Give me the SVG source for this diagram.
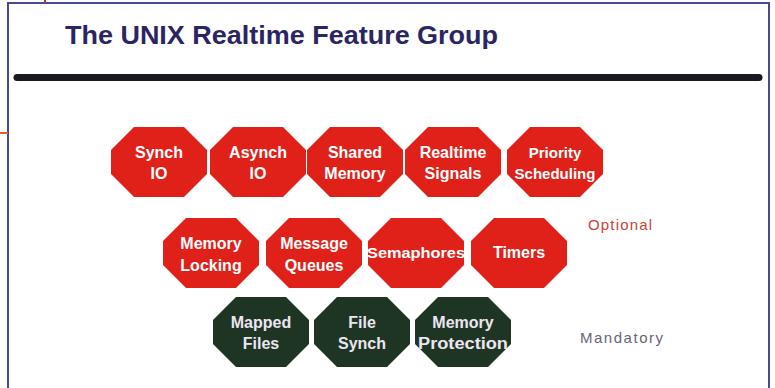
<svg xmlns="http://www.w3.org/2000/svg" width="775" height="388" viewBox="0 0 775 388">
<style>
.title{font-family:"Liberation Sans",Arial,sans-serif;font-weight:bold;font-size:26px;fill:#2b2563}
.lbl{font-family:"Liberation Sans",Arial,sans-serif;font-weight:bold;font-size:16px;fill:#ffffff;text-anchor:middle}
.lblg{fill:#ece6f2}
.red{fill:#df2119}
.green{fill:#1f3523}
.opt{font-family:"Liberation Sans",Arial,sans-serif;font-size:15px;fill:#c8423a}
.man{font-family:"Liberation Sans",Arial,sans-serif;font-size:15px;fill:#6a6478}
</style>
<defs>
<polygon id="oct" points="-25,-35 25,-35 48,-12 48,12 25,35 -25,35 -48,12 -48,-12"/>
</defs>
<rect x="0" y="0" width="775" height="388" fill="#ffffff"/>
<rect x="8" y="3" width="761" height="400" fill="#ffffff" stroke="#4a4890" stroke-width="2"/>
<line x1="45" y1="0" x2="45" y2="3" stroke="#c0301a" stroke-width="2"/>
<line x1="0" y1="133" x2="8" y2="133" stroke="#d8602a" stroke-width="2"/>
<text class="title" x="65" y="44" textLength="433" lengthAdjust="spacingAndGlyphs">The UNIX Realtime Feature Group</text>
<line x1="17" y1="77.5" x2="759" y2="77.5" stroke="#1a1820" stroke-width="7" stroke-linecap="round"/>

<g id="synch-io" transform="translate(159,162)"><use href="#oct" class="red"/><text class="lbl" y="-4">Synch</text><text class="lbl" y="17">IO</text></g>
<g id="asynch-io" transform="translate(258,162)"><use href="#oct" class="red"/><text class="lbl" y="-4">Asynch</text><text class="lbl" y="17">IO</text></g>
<g id="shared-memory" transform="translate(355,162)"><use href="#oct" class="red"/><text class="lbl" y="-4">Shared</text><text class="lbl" y="17">Memory</text></g>
<g id="realtime-signals" transform="translate(453,162)"><use href="#oct" class="red"/><text class="lbl" y="-4">Realtime</text><text class="lbl" y="17">Signals</text></g>
<g id="priority-scheduling" transform="translate(555,162)"><use href="#oct" class="red"/><text class="lbl" y="-4" style="font-size:15px">Priority</text><text class="lbl" y="17" style="font-size:15px">Scheduling</text></g>

<g id="memory-locking" transform="translate(211,253)"><use href="#oct" class="red"/><text class="lbl" y="-4">Memory</text><text class="lbl" y="18">Locking</text></g>
<g id="message-queues" transform="translate(314,253)"><use href="#oct" class="red"/><text class="lbl" y="-4">Message</text><text class="lbl" y="18">Queues</text></g>
<g id="semaphores" transform="translate(416,253)"><use href="#oct" class="red"/><text class="lbl" y="5" style="font-size:15px" textLength="98" lengthAdjust="spacingAndGlyphs">Semaphores</text></g>
<g id="timers" transform="translate(519,253)"><use href="#oct" class="red"/><text class="lbl" y="5">Timers</text></g>

<g id="mapped-files" transform="translate(261,332)"><use href="#oct" class="green"/><text class="lbl lblg" y="-4">Mapped</text><text class="lbl lblg" y="17">Files</text></g>
<g id="file-synch" transform="translate(362,332)"><use href="#oct" class="green"/><text class="lbl lblg" y="-4">File</text><text class="lbl lblg" y="17">Synch</text></g>
<g id="memory-protection" transform="translate(463,332)"><use href="#oct" class="green"/><text class="lbl lblg" y="-4">Memory</text><text class="lbl lblg" y="17" textLength="90" lengthAdjust="spacingAndGlyphs">Protection</text></g>

<g id="connectors"></g>

<text class="opt" x="588" y="230" textLength="64" lengthAdjust="spacing">Optional</text>
<text class="man" x="580" y="343" textLength="83" lengthAdjust="spacing">Mandatory</text>
</svg>
